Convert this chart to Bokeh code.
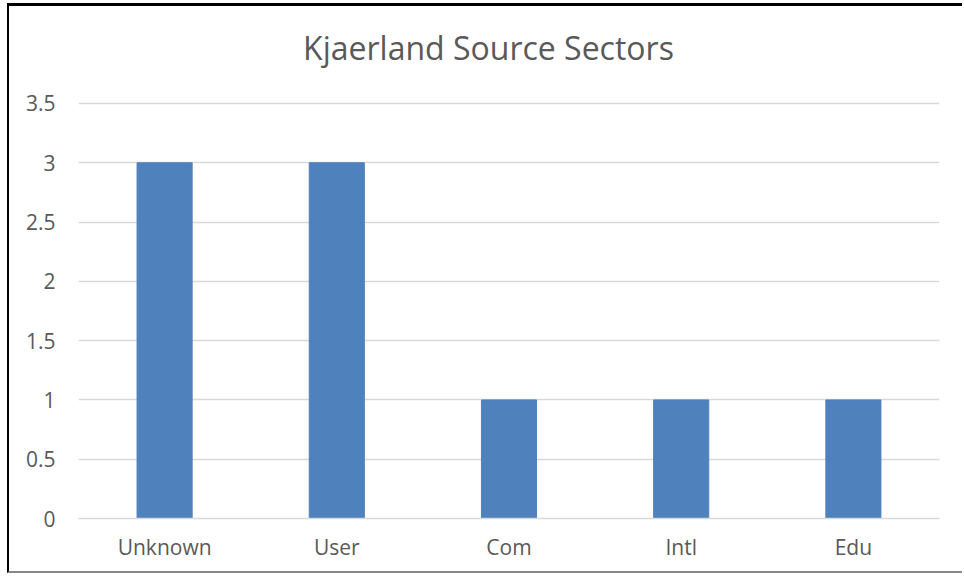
from bokeh.plotting import figure
from bokeh.models import FactorRange, Range1d, FixedTicker, Label
from bokeh.embed import file_html
from bokeh.resources import INLINE

categories = ["Unknown", "User", "Com", "Intl", "Edu"]
values = [3, 3, 1, 1, 1]
y_ticks = [0, 0.5, 1, 1.5, 2, 2.5, 3, 3.5]
title_text = "Kjaerland Source Sectors"

FONT = "Open Sans"
TXT = "#595959"

# frame spans the full canvas height above the axis so the title label sits inside it
p = figure(width=955, height=570, x_range=FactorRange(*categories, range_padding=0),
           y_range=Range1d(0, 4.318), output_backend="svg", toolbar_location=None,
           min_border_left=69, min_border_right=25, min_border_top=0, min_border_bottom=58)

p.styles = {"border-left": "2px solid #000", "border-top": "3px solid #000",
            "border-bottom": "2px solid #888", "margin-left": "7px", "margin-top": "3px"}

p.vbar(x=categories, top=values, width=0.32, color="#4F81BD")

title = Label(x=410, y=471, x_units="screen", y_units="screen", text=title_text,
              text_align="center", text_baseline="alphabetic",
              text_font=FONT, text_font_size="32px", text_color=TXT)
p.add_layout(title)

p.outline_line_color = None
p.xgrid.grid_line_color = None
p.ygrid.grid_line_color = "#D9D9D9"
p.ygrid.grid_line_width = 1.5
p.yaxis.ticker = FixedTicker(ticks=y_ticks)
p.yaxis.major_label_overrides = {0: "0", 0.5: "0.5", 1: "1", 1.5: "1.5", 2: "2", 2.5: "2.5", 3: "3", 3.5: "3.5"}

for ax in (p.xaxis, p.yaxis):
    ax.axis_line_color = None
    ax.major_tick_line_color = None
    ax.minor_tick_line_color = None
    ax.major_tick_out = 0
    ax.major_tick_in = 0
    ax.major_label_text_font = FONT
    ax.major_label_text_font_size = "21px"
    ax.major_label_text_color = TXT

p.xaxis.axis_line_color = "#D9D9D9"
p.xaxis.axis_line_width = 1.5
p.xaxis.major_label_standoff = 14
p.yaxis.major_label_standoff = 23

open("out.html", "w").write(file_html(p, INLINE))
